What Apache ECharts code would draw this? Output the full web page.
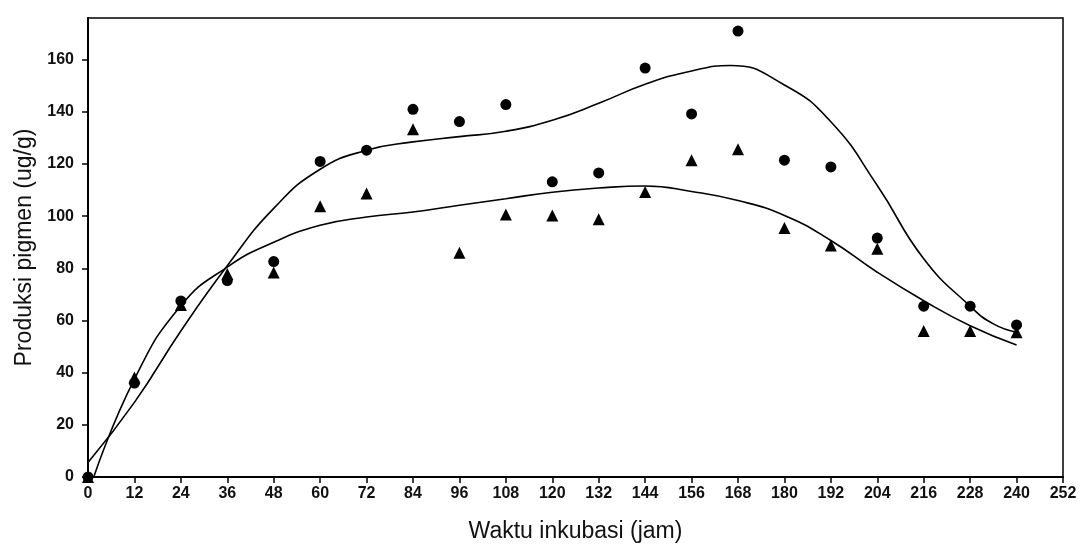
<!DOCTYPE html>
<html>
<head>
<meta charset="utf-8">
<script src="https://cdn.jsdelivr.net/npm/echarts@6/dist/echarts.min.js"></script>
<style>
html,body{margin:0;padding:0;background:#fff;}
#chart{width:1082px;height:548px;}
</style>
</head>
<body>
<div id="chart"></div>
<script>
// Sampling times (jam)
const hours = [0,12,24,36,48,60,72,84,96,108,120,132,144,156,168,180,192,204,216,228,240];
// Circle series (measured)
const circleValues = [0,36,67.5,75.3,82.6,121,125.3,141,136.3,142.8,113.2,116.6,156.8,139.2,171,121.5,118.9,91.6,65.5,65.5,58.3];
// Triangle series (measured)
const triangleValues = [0,38.2,66,77.8,78.4,103.8,108.7,133.3,86,100.7,100.3,98.8,109.3,121.5,125.7,95.5,88.8,87.5,56,56,55.5];
// Fitted curve for circles
const circleFitX = [0,12,24,36,48,60,72,84,96,108,120,132,144,156,166,180,192,204,216,228,234,240];
const circleFitY = [5.6,28.6,56,81,103,118,125.3,128.5,130.5,132.6,136.8,143.3,150.6,155.7,157.8,150.3,136.2,111.8,83.7,65.5,58.7,55.5];
// Fitted curve for triangles
const triangleFitX = [1.5,12,24,36,48,60,72,84,96,108,120,132,144,156,168,180,192,204,216,228,240];
const triangleFitY = [0,37.5,65.7,80.5,90,96.5,99.7,101.6,104.2,106.7,109.2,110.8,111.6,109.5,106,100.3,90.7,78.5,67.6,58,50.6];
// Axis tick values
const xTickValues = [0,12,24,36,48,60,72,84,96,108,120,132,144,156,168,180,192,204,216,228,240,252];
const yTickValues = [0,20,40,60,80,100,120,140,160];

const pair = (xs, ys) => xs.map((x, i) => [x, ys[i]]);

const chart = echarts.init(document.getElementById('chart'), null, {renderer: 'canvas'});
const fontFamily = 'Arial, "Liberation Sans", Helvetica, sans-serif';
chart.setOption({
  animation: false,
  backgroundColor: '#fff',
  grid: {
    left: 88, right: 19, top: 18, bottom: 70,
    show: true, borderColor: '#000', borderWidth: 1.5, backgroundColor: 'transparent'
  },
  xAxis: {
    type: 'value', min: 0, max: 252, interval: 12,
    name: 'Waktu inkubasi (jam)', nameLocation: 'middle', nameGap: 43,
    nameTextStyle: {fontFamily, fontSize: 23, color: '#111'},
    axisLine: {show: true, lineStyle: {color: '#000', width: 2}},
    axisTick: {show: true, length: 6, lineStyle: {color: '#000', width: 1.5}, customValues: xTickValues},
    axisLabel: {fontFamily, fontSize: 16, fontWeight: 'bold', color: '#111', margin: 9, customValues: xTickValues},
    splitLine: {show: false}
  },
  yAxis: {
    type: 'value', min: 0, max: 176, interval: 20,
    name: 'Produksi pigmen (ug/g)', nameLocation: 'middle', nameGap: 52, nameRotate: 90,
    nameTextStyle: {fontFamily, fontSize: 23, color: '#111'},
    axisLine: {show: true, lineStyle: {color: '#000', width: 2}},
    axisTick: {show: true, length: 6, lineStyle: {color: '#000', width: 1.5}, customValues: yTickValues},
    axisLabel: {fontFamily, fontSize: 16, fontWeight: 'bold', color: '#111', margin: 14, customValues: yTickValues},
    splitLine: {show: false}
  },
  series: [
    {
      type: 'line', data: pair(circleFitX, circleFitY), smooth: 0.5,
      showSymbol: false, symbol: 'none', lineStyle: {color: '#000', width: 1.6}, z: 2
    },
    {
      type: 'line', data: pair(triangleFitX, triangleFitY), smooth: 0.5,
      showSymbol: false, symbol: 'none', lineStyle: {color: '#000', width: 1.6}, z: 2
    },
    {
      type: 'scatter', data: pair(hours, circleValues), symbol: 'circle', symbolSize: 11,
      itemStyle: {color: '#000', opacity: 1}, z: 3
    },
    {
      type: 'scatter', data: pair(hours, triangleValues), symbol: 'triangle', symbolSize: 12,
      itemStyle: {color: '#000', opacity: 1}, z: 4
    }
  ]
});
</script>
</body>
</html>
